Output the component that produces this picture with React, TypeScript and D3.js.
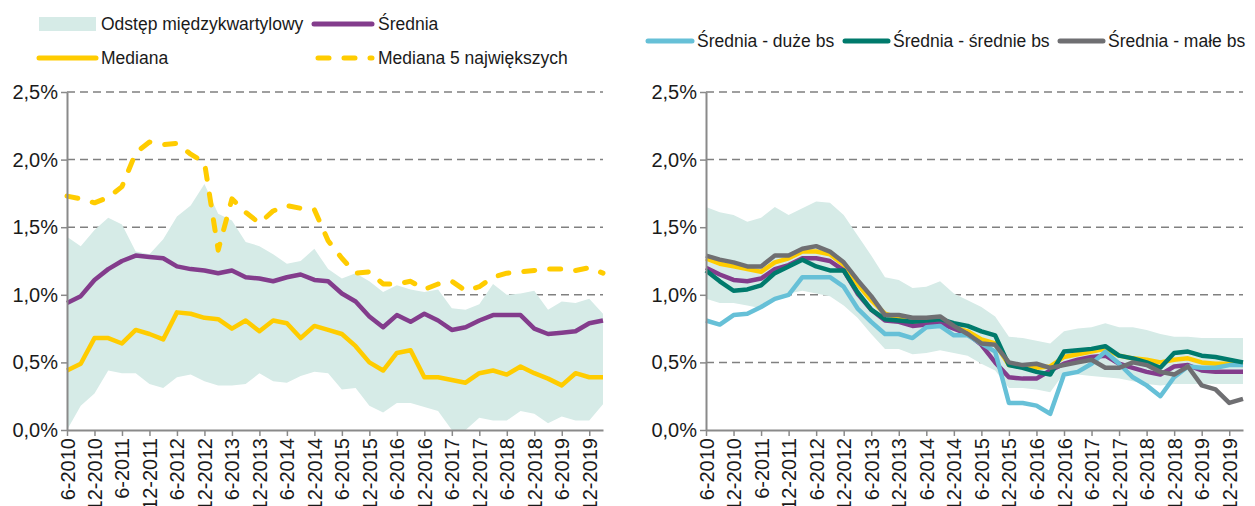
import { useEffect, useRef } from 'react';
import * as d3 from 'd3';

// quarters, 6-2010 .. 3-2020
const quarters = [
	'6-2010', '9-2010', '12-2010', '3-2011', '6-2011', '9-2011', '12-2011', '3-2012',
	'6-2012', '9-2012', '12-2012', '3-2013', '6-2013', '9-2013', '12-2013', '3-2014',
	'6-2014', '9-2014', '12-2014', '3-2015', '6-2015', '9-2015', '12-2015', '3-2016',
	'6-2016', '9-2016', '12-2016', '3-2017', '6-2017', '9-2017', '12-2017', '3-2018',
	'6-2018', '9-2018', '12-2018', '3-2019', '6-2019', '9-2019', '12-2019', '3-2020',
];
const tickLabels = quarters.filter((_, i) => i % 2 === 0);
const yTicks = [0, 0.5, 1, 1.5, 2, 2.5];

// left panel
const leftQ3 = [
	1.43, 1.36, 1.48, 1.57, 1.52, 1.32, 1.3, 1.41, 1.58, 1.66, 1.82, 1.6, 1.55, 1.39, 1.36, 1.3, 1.23, 1.25, 1.34, 1.19,
	1.12, 1.16, 1.1, 1.02, 1.07, 1.04, 1.02, 1.04, 0.9, 0.89, 0.93, 1.08, 1.0, 1.01, 1.03, 0.89, 0.95, 0.94, 0.97, 0.86,
];
const leftQ1 = [
	0.0, 0.18, 0.27, 0.44, 0.42, 0.42, 0.34, 0.31, 0.39, 0.41, 0.36, 0.33, 0.33, 0.34, 0.42, 0.36, 0.35, 0.4, 0.43, 0.42,
	0.3, 0.31, 0.18, 0.13, 0.2, 0.2, 0.17, 0.14, 0.0, 0.0, 0.09, 0.07, 0.07, 0.14, 0.12, 0.05, 0.1, 0.07, 0.07, 0.19,
];
const leftMean = [
	0.94, 0.99, 1.11, 1.19, 1.25, 1.29, 1.28, 1.27, 1.21, 1.19, 1.18, 1.16, 1.18, 1.13, 1.12, 1.1, 1.13, 1.15, 1.11, 1.1,
	1.01, 0.95, 0.84, 0.76, 0.85, 0.8, 0.86, 0.81, 0.74, 0.76, 0.81, 0.85, 0.85, 0.85, 0.75, 0.71, 0.72, 0.73, 0.79, 0.81,
];
const leftMedian = [
	0.44, 0.49, 0.68, 0.68, 0.64, 0.74, 0.71, 0.67, 0.87, 0.86, 0.83, 0.82, 0.75, 0.81, 0.73, 0.81, 0.79, 0.68, 0.77, 0.74,
	0.71, 0.62, 0.5, 0.44, 0.57, 0.59, 0.39, 0.39, 0.37, 0.35, 0.42, 0.44, 0.41, 0.47, 0.42, 0.38, 0.33, 0.42, 0.39, 0.39,
];
const leftTop5 = [
	1.73, 1.71, 1.68, 1.72, 1.8, 2.05, 2.13, 2.11, 2.12, 2.04, 1.98, 1.33, 1.71, 1.61, 1.53, 1.62, 1.66, 1.64, 1.63, 1.4,
	1.27, 1.16, 1.17, 1.08, 1.08, 1.1, 1.04, 1.08, 1.1, 1.03, 1.06, 1.13, 1.16, 1.17, 1.18, 1.19, 1.19, 1.18, 1.2, 1.16,
];

// right panel
const rightQ3 = [
	1.65, 1.61, 1.59, 1.54, 1.57, 1.65, 1.59, 1.64, 1.69, 1.68, 1.59, 1.44, 1.29, 1.13, 1.11, 1.05, 1.06, 1.1, 1.01, 0.96,
	0.91, 0.84, 0.69, 0.68, 0.66, 0.64, 0.73, 0.75, 0.76, 0.79, 0.76, 0.76, 0.74, 0.71, 0.69, 0.69, 0.68, 0.68, 0.68, 0.68,
];
const rightQ1 = [
	0.97, 0.94, 0.94, 0.92, 0.9, 0.96, 1.01, 1.03, 1.01, 0.99, 0.92, 0.83, 0.71, 0.6, 0.6, 0.56, 0.57, 0.59, 0.57, 0.55,
	0.49, 0.44, 0.31, 0.31, 0.3, 0.28, 0.42, 0.41, 0.4, 0.39, 0.38, 0.36, 0.34, 0.33, 0.34, 0.34, 0.34, 0.34, 0.34, 0.34,
];
const rightMean = [
	1.2, 1.15, 1.11, 1.1, 1.12, 1.19, 1.22, 1.27, 1.27, 1.25, 1.18, 1.01, 0.89, 0.81, 0.8, 0.77, 0.78, 0.79, 0.75, 0.71,
	0.63, 0.5, 0.39, 0.38, 0.38, 0.44, 0.49, 0.52, 0.54, 0.55, 0.49, 0.46, 0.43, 0.41, 0.47, 0.48, 0.44, 0.43, 0.43, 0.43,
];
const rightMedian = [
	1.27, 1.23, 1.21, 1.19, 1.17, 1.24, 1.27, 1.32, 1.32, 1.3, 1.22, 1.08, 0.96, 0.86, 0.83, 0.79, 0.78, 0.79, 0.76, 0.73,
	0.67, 0.64, 0.48, 0.47, 0.46, 0.47, 0.54, 0.56, 0.58, 0.6, 0.55, 0.53, 0.52, 0.5, 0.52, 0.53, 0.5, 0.49, 0.49, 0.48,
];
const rightLarge = [
	0.81, 0.78, 0.85, 0.86, 0.91, 0.97, 1.0, 1.13, 1.13, 1.13, 1.06, 0.9, 0.8, 0.71, 0.71, 0.68, 0.76, 0.77, 0.7, 0.7,
	0.64, 0.58, 0.2, 0.2, 0.18, 0.12, 0.41, 0.43, 0.49, 0.58, 0.49, 0.39, 0.33, 0.25, 0.39, 0.47, 0.46, 0.46, 0.48, 0.48,
];
const rightMid = [
	1.18, 1.1, 1.03, 1.04, 1.07, 1.16, 1.21, 1.26, 1.21, 1.18, 1.18, 1.02, 0.89, 0.82, 0.81, 0.8, 0.81, 0.82, 0.79, 0.77,
	0.73, 0.7, 0.48, 0.46, 0.43, 0.41, 0.58, 0.59, 0.6, 0.62, 0.55, 0.53, 0.5, 0.46, 0.57, 0.58, 0.55, 0.54, 0.52, 0.5,
];
const rightSmall = [
	1.29, 1.26, 1.24, 1.21, 1.21, 1.29, 1.29, 1.34, 1.36, 1.32, 1.24, 1.11, 0.99, 0.85, 0.85, 0.83, 0.83, 0.84, 0.77, 0.71,
	0.64, 0.63, 0.5, 0.48, 0.49, 0.46, 0.48, 0.5, 0.52, 0.46, 0.46, 0.5, 0.48, 0.43, 0.41, 0.47, 0.33, 0.3, 0.2, 0.23,
];

const legendLeft = ['Odstęp międzykwartylowy', 'Średnia', 'Mediana', 'Mediana 5 największych'];
const legendRight = ['Średnia - duże bs', 'Średnia - średnie bs', 'Średnia - małe bs'];

const TEAL = '#d6ebe7';
const PURPLE = '#833c8c';
const YELLOW = '#ffcc00';
const LIGHTBLUE = '#66c0d7';
const GREEN = '#007a6c';
const GREY = '#6f6f72';
const AXIS = '#8a8a8a';
const FONT = "'Liberation Sans', Arial, sans-serif";

export default function App() {
	const ref = useRef<SVGSVGElement | null>(null);

	useEffect(() => {
		if (!ref.current) return;
		const svg = d3.select(ref.current);
		svg.selectAll('*').remove();

		const top = 92;
		const bottom = 430;
		const y = d3.scaleLinear().domain([0, 2.5]).range([bottom, top]);

		const drawPanel = (
			x0: number,
			x1: number,
			q1: number[],
			q3: number[],
			series: { values: number[]; color: string; dash?: string }[]
		) => {
			const x = d3.scalePoint<string>().domain(quarters).range([x0, x1]);
			const g = svg.append('g');

			// grid
			g.selectAll('line.grid')
				.data(yTicks.filter(d => d > 0))
				.join('line')
				.attr('x1', x0)
				.attr('x2', x1)
				.attr('y1', d => y(d))
				.attr('y2', d => y(d))
				.attr('stroke', '#808080')
				.attr('stroke-width', 1.5)
				.attr('stroke-dasharray', '8 5');

			const area = d3
				.area<number>()
				.x((_, i) => x(quarters[i])!)
				.y0((_, i) => y(q1[i]))
				.y1(d => y(d));
			g.append('path').datum(q3).attr('fill', TEAL).attr('d', area);

			const line = d3
				.line<number>()
				.x((_, i) => x(quarters[i])!)
				.y(d => y(d));

			series.forEach(s => {
				g.append('path')
					.datum(s.values)
					.attr('fill', 'none')
					.attr('stroke', s.color)
					.attr('stroke-width', s.dash ? 5 : 4.5)
					.attr('stroke-linejoin', 'round')
					.attr('stroke-linecap', s.dash ? 'round' : 'butt')
					.attr('stroke-dasharray', s.dash ?? null)
					.attr('d', line);
			});

			const yAxis = d3
				.axisLeft(y)
				.tickValues(yTicks)
				.tickSize(6)
				.tickSizeOuter(0)
				.tickFormat(d => (d as number).toFixed(1).replace('.', ',') + '%');
			const ya = g.append('g').attr('transform', `translate(${x0},0)`).call(yAxis);
			ya.select('.domain').attr('stroke', AXIS).attr('stroke-width', 2);
			ya.selectAll('.tick line').attr('stroke', AXIS).attr('stroke-width', 1.5);
			ya.selectAll('text')
				.attr('font-family', FONT)
				.attr('font-size', 20)
				.attr('fill', '#1a1a1a');

			const xAxis = d3.axisBottom(x).tickValues(tickLabels).tickSize(6).tickSizeOuter(0);
			const xa = g.append('g').attr('transform', `translate(0,${bottom})`).call(xAxis);
			xa.select('.domain').attr('stroke', AXIS).attr('stroke-width', 2);
			xa.selectAll('.tick line').attr('stroke', AXIS).attr('stroke-width', 1.5);
			xa.selectAll('text')
				.attr('font-family', FONT)
				.attr('font-size', 20)
				.attr('fill', '#1a1a1a')
				.attr('transform', 'rotate(-90)')
				.attr('x', -8)
				.attr('y', 0)
				.attr('dy', '0.35em')
				.style('text-anchor', 'end');
		};

		drawPanel(67, 603, leftQ1, leftQ3, [
			{ values: leftMean, color: PURPLE },
			{ values: leftMedian, color: YELLOW },
			{ values: leftTop5, color: YELLOW, dash: '11 15' },
		]);
		drawPanel(706, 1243, rightQ1, rightQ3, [
			{ values: rightMedian, color: YELLOW },
			{ values: rightMean, color: PURPLE },
			{ values: rightLarge, color: LIGHTBLUE },
			{ values: rightMid, color: GREEN },
			{ values: rightSmall, color: GREY },
		]);

		// legends
		const lg = svg.append('g').attr('font-family', FONT).attr('font-size', 17.5).attr('fill', '#1a1a1a');
		const text = (tx: number, ty: number, s: string) =>
			lg.append('text').attr('x', tx).attr('y', ty).attr('dy', '0.35em').text(s);
		const swatch = (xa: number, xb: number, ly: number, color: string, dash?: string) =>
			lg.append('line')
				.attr('x1', xa)
				.attr('x2', xb)
				.attr('y1', ly)
				.attr('y2', ly)
				.attr('stroke', color)
				.attr('stroke-width', 5)
				.attr('stroke-linecap', 'round')
				.attr('stroke-dasharray', dash ?? null);

		lg.append('rect').attr('x', 39).attr('y', 17).attr('width', 57).attr('height', 14).attr('fill', TEAL);
		text(101, 24, legendLeft[0]);
		swatch(314, 372, 24, PURPLE);
		text(378, 24, legendLeft[1]);
		swatch(39, 96, 58, YELLOW);
		text(101, 58, legendLeft[2]);
		swatch(318, 372, 58, YELLOW, '11 15');
		text(378, 58, legendLeft[3]);

		swatch(648, 692, 41, LIGHTBLUE);
		text(697, 41, legendRight[0]);
		swatch(845, 888, 41, GREEN);
		text(893, 41, legendRight[1]);
		swatch(1060, 1103, 41, GREY);
		text(1108, 41, legendRight[2]);
	}, []);

	return (
		<svg
			ref={ref}
			width={1255}
			height={506}
			style={{ position: 'absolute', left: 0, top: 0, background: '#fff' }}
		/>
	);
}
